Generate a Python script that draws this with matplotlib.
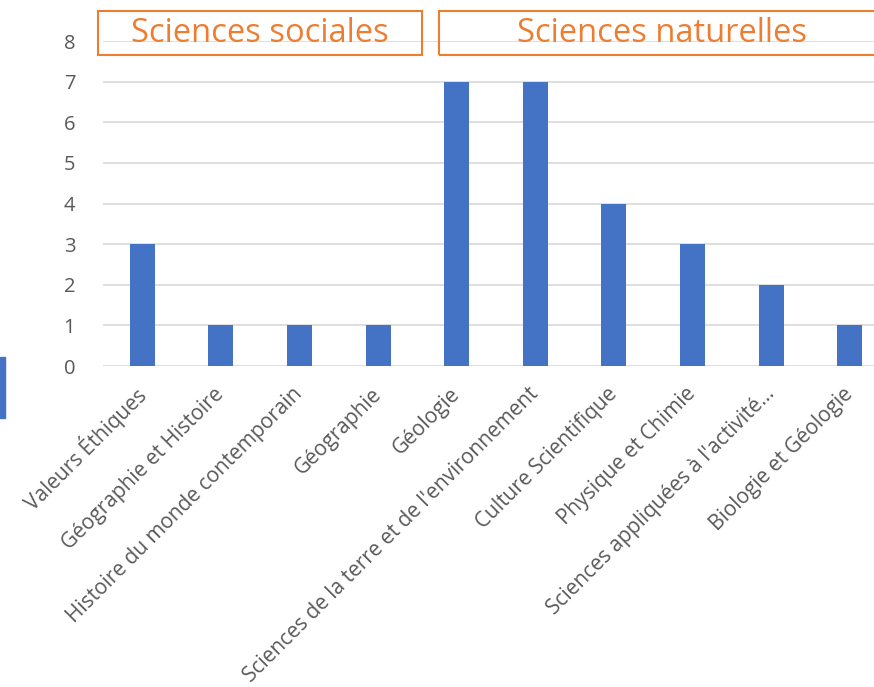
import matplotlib
matplotlib.use("Agg")
import matplotlib.pyplot as plt
import numpy as np
from matplotlib.patches import Rectangle

# Data
categories = ["Valeurs Éthiques", "Géographie et Histoire",
              "Histoire du monde contemporain", "Géographie", "Géologie",
              "Sciences de la terre et de l'environnement",
              "Culture Scientifique", "Physique et Chimie",
              "Sciences appliquées à l'activité…", "Biologie et Géologie"]
values = [3, 1, 1, 1, 7, 7, 4, 3, 2, 1]
yticks = [0, 1, 2, 3, 4, 5, 6, 7, 8]
group_titles = ["Sciences sociales", "Sciences naturelles"]

plt.rcParams['font.family'] = ['Open Sans', 'DejaVu Sans']

W, H = 874, 687
fig = plt.figure(figsize=(W / 100, H / 100), dpi=100)

# plot area runs past the right edge of the picture, like the reference
left, right, top, bottom = 103, 889, 41, 366
ax = fig.add_axes([left / W, 1 - bottom / H, (right - left) / W, (bottom - top) / H])

x = np.arange(len(categories))
ax.bar(x, values, width=0.32, color='#4472C4', zorder=3)
ax.set_xlim(-0.5, len(categories) - 0.5)
ax.set_ylim(0, 8)
ax.set_yticks(yticks)
ax.yaxis.grid(True, color='#D9D9D9', linewidth=1.2, zorder=0)
for s in ax.spines.values():
    s.set_visible(False)
ax.tick_params(axis='both', length=0, colors='#595959', labelsize=14.5)
ax.tick_params(axis='y', pad=20)
ax.set_xticks(x)
ax.set_xticklabels(categories, rotation=45, ha='right', va='center',
                   rotation_mode='anchor', color='#595959', fontsize=15)
ax.tick_params(axis='x', pad=18)

# group boxes with orange titles
boxes = [(98, 422), (439, 885)]
for (x0, x1), title in zip(boxes, group_titles):
    r = Rectangle((x0 / W, 1 - 55 / H), (x1 - x0) / W, 44 / H,
                  transform=fig.transFigure, fill=False,
                  edgecolor='#ED7D31', linewidth=1.5, zorder=5)
    fig.add_artist(r)
    fig.text((x0 + x1) / 2 / W, 1 - 34 / H, title, color='#ED7D31',
             fontsize=23.5, ha='center', va='center')

# small blue shape fragment on the left edge
fig.add_artist(Rectangle((0, 1 - 418 / H), 5 / W, 61 / H,
                         transform=fig.transFigure, color='#4472C4'))

fig.savefig("out.png", dpi=100)
